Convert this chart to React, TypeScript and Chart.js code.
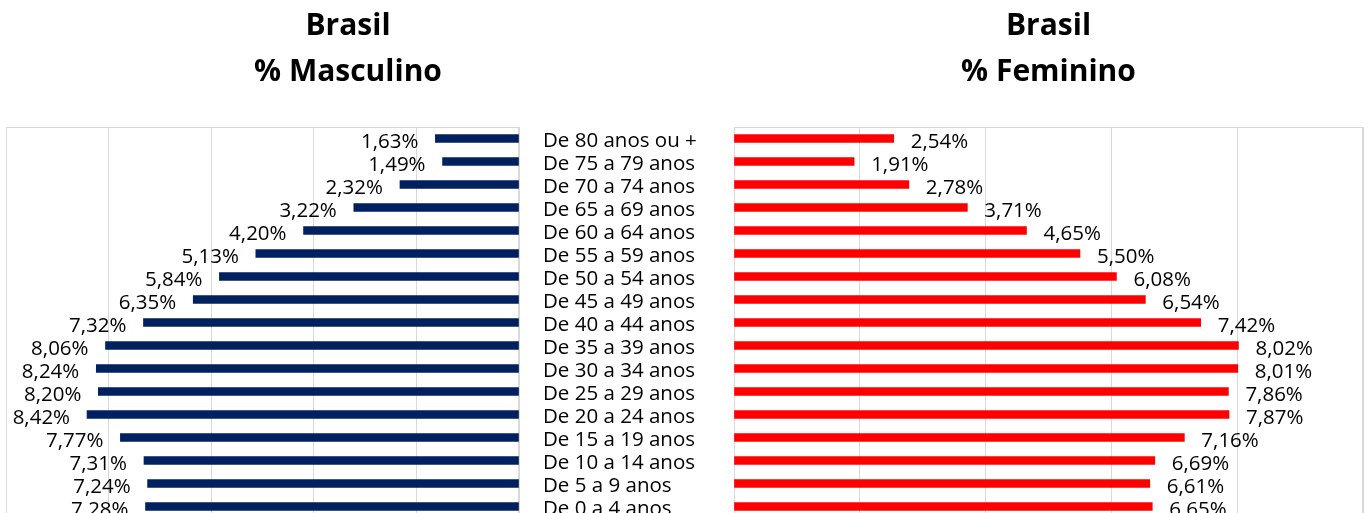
import React, { useEffect, useRef } from "react";
import { Chart, registerables } from "chart.js";

Chart.register(...registerables);

const categories = [
  "De 80 anos ou +",
  "De 75 a 79 anos",
  "De 70 a 74 anos",
  "De 65 a 69 anos",
  "De 60 a 64 anos",
  "De 55 a 59 anos",
  "De 50 a 54 anos",
  "De 45 a 49 anos",
  "De 40 a 44 anos",
  "De 35 a 39 anos",
  "De 30 a 34 anos",
  "De 25 a 29 anos",
  "De 20 a 24 anos",
  "De 15 a 19 anos",
  "De 10 a 14 anos",
  "De 5 a 9 anos",
  "De 0 a 4 anos",
];

const maleValues = [1.63, 1.49, 2.32, 3.22, 4.2, 5.13, 5.84, 6.35, 7.32, 8.06, 8.24, 8.2, 8.42, 7.77, 7.31, 7.24, 7.28];
const femaleValues = [2.54, 1.91, 2.78, 3.71, 4.65, 5.5, 6.08, 6.54, 7.42, 8.02, 8.01, 7.86, 7.87, 7.16, 6.69, 6.61, 6.65];

const xTicks = [0, 2, 4, 6, 8, 10];
const maleTitle = ["Brasil", "% Masculino"];
const femaleTitle = ["Brasil", "% Feminino"];

const FONT = "'Open Sans', 'Noto Sans', sans-serif";
const GRID = "#d9d9d9";
const LABEL_SIZE = 20.5;

const fmt = (v: number) => v.toFixed(2).replace(".", ",") + "%";

const framePlugin = {
  id: "frame",
  beforeDatasetsDraw(chart: any) {
    const { ctx, chartArea } = chart;
    ctx.save();
    ctx.strokeStyle = GRID;
    ctx.lineWidth = 1;
    const l = Math.round(chartArea.left) + 0.5;
    const t = Math.round(chartArea.top) + 0.5;
    const r = Math.round(chartArea.right) - 0.5;
    const b = Math.round(chartArea.bottom) - 0.5;
    ctx.strokeRect(l, t, r - l, b - t);
    ctx.restore();
  },
};

// let the category labels of the right-hand axis use the whole canvas width
const widenAxisPlugin = {
  id: "widenAxis",
  afterLayout(chart: any) {
    const y = chart.scales.y;
    if (y && y.options.display !== false) {
      y.right = chart.width;
    }
  },
};

const makeLabelPlugin = (side: "left" | "right") => ({
  id: "valueLabels",
  afterDatasetsDraw(chart: any) {
    const { ctx } = chart;
    const meta = chart.getDatasetMeta(0);
    const data = chart.data.datasets[0].data as number[];
    ctx.save();
    ctx.font = `${LABEL_SIZE}px ${FONT}`;
    ctx.fillStyle = "#000";
    ctx.textBaseline = "alphabetic";
    ctx.textAlign = side === "left" ? "right" : "left";
    meta.data.forEach((el: any, i: number) => {
      const x = side === "left" ? el.x - 17 : el.x + 17;
      ctx.fillText(fmt(data[i]), x, el.y + 9.5);
    });
    ctx.restore();
  },
});

function buildConfig(side: "left" | "right"): any {
  const isLeft = side === "left";
  return {
    type: "bar",
    data: {
      labels: categories,
      datasets: [
        {
          data: isLeft ? maleValues : femaleValues,
          backgroundColor: isLeft ? "#002060" : "#ff0000",
          borderWidth: 0,
          barThickness: 8,
        },
      ],
    },
    options: {
      indexAxis: "y",
      animation: false,
      responsive: false,
      maintainAspectRatio: false,
      layout: {
        padding: isLeft ? { left: 6, right: 30, top: 0, bottom: 6 } : { left: 6, right: 5, top: 0, bottom: 6 },
      },
      plugins: {
        legend: { display: false },
        tooltip: { enabled: false },
        title: {
          display: true,
          text: isLeft ? maleTitle : femaleTitle,
          color: "#000",
          font: { family: FONT, size: 30, weight: "bold", lineHeight: 46.5 / 30 },
          padding: { top: 3, bottom: 31 },
        },
      },
      scales: {
        x: {
          type: "linear",
          min: 0,
          max: 10,
          reverse: isLeft,
          afterBuildTicks: (axis: any) => {
            axis.ticks = xTicks.map((v) => ({ value: v }));
          },
          ticks: { display: false },
          grid: { color: GRID, lineWidth: 1, drawTicks: false },
          border: { display: false },
        },
        y: isLeft
          ? {
              position: "right",
              grid: { display: false, drawTicks: false },
              border: { display: false },
              ticks: {
                color: "#000",
                padding: 24,
                autoSkip: false,
                labelOffset: 3,
                font: { family: FONT, size: LABEL_SIZE },
              },
              afterFit: (axis: any) => {
                axis.width = 171;
                axis.paddingTop = 0;
                axis.paddingBottom = 0;
              },
            }
          : { display: false },
      },
    },
    plugins: [framePlugin, widenAxisPlugin, makeLabelPlugin(side)],
  };
}

function Panel({ side, left, width }: { side: "left" | "right"; left: number; width: number }) {
  const ref = useRef<HTMLCanvasElement | null>(null);
  useEffect(() => {
    if (!ref.current) return;
    const chart = new Chart(ref.current, buildConfig(side));
    return () => chart.destroy();
  }, [side]);
  return (
    <canvas
      ref={ref}
      width={width}
      height={524}
      style={{ position: "absolute", left, top: 0, width, height: 524 }}
    />
  );
}

export default function App() {
  return (
    <div
      style={{
        position: "absolute",
        left: 0,
        top: 0,
        width: 1368,
        height: 513,
        overflow: "hidden",
        background: "#fff",
      }}
    >
      <Panel side="left" left={0} width={720} />
      <Panel side="right" left={728} width={640} />
    </div>
  );
}
